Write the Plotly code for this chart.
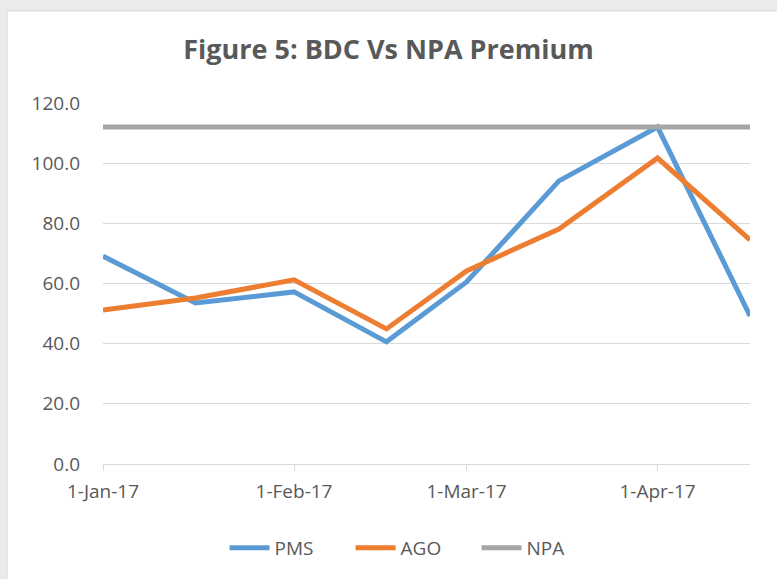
import plotly.graph_objects as go

dates = ["2017-01-01", "2017-01-16", "2017-02-01", "2017-02-16",
         "2017-03-01", "2017-03-16", "2017-04-01", "2017-04-16"]
pms = [69.1, 53.5, 57.2, 40.6, 60.5, 94.1, 112.0, 49.2]
ago = [51.2, 55.2, 61.2, 44.9, 64.2, 78.1, 101.7, 74.5]
npa = [112.0, 112.0, 112.0, 112.0, 112.0, 112.0, 112.0, 112.0]

tick_vals = ["2017-01-01", "2017-02-01", "2017-03-01", "2017-04-01"]
tick_text = ["1-Jan-17", "1-Feb-17", "1-Mar-17", "1-Apr-17"]
y_ticks = [0, 20, 40, 60, 80, 100, 120]

fig = go.Figure()
fig.add_trace(go.Scatter(x=dates, y=pms, name="PMS", mode="lines",
                         line=dict(color="#5b9bd5", width=5)))
fig.add_trace(go.Scatter(x=dates, y=ago, name="AGO", mode="lines",
                         line=dict(color="#ed7d31", width=5)))
fig.add_trace(go.Scatter(x=dates, y=npa, name="NPA", mode="lines",
                         line=dict(color="#a5a5a5", width=5)))

font_family = "Open Sans, Liberation Sans, sans-serif"

fig.update_layout(
    width=777, height=579,
    margin=dict(l=103, r=27, t=103, b=115),
    paper_bgcolor="#ebebeb",
    plot_bgcolor="white",
    font=dict(family=font_family, color="#595959", size=19),
    title=dict(text="<b>Figure 5: BDC Vs NPA Premium</b>", x=0.5, xanchor="center",
               y=1 - 50 / 579, yanchor="middle",
               font=dict(size=27, color="#595959", family=font_family)),
    showlegend=True,
    legend=dict(orientation="h", x=0.48, xanchor="center", y=-(548 - 464) / 361,
                yanchor="middle", entrywidth=71, entrywidthmode="pixels",
                font=dict(size=19, color="#595959"), bgcolor="rgba(0,0,0,0)",
                itemwidth=40, tracegroupgap=0),
    shapes=[dict(type="rect", xref="paper", yref="paper",
                 x0=(7 - 103) / 647, x1=1.2, y0=-0.4, y1=(464 - 11) / 361,
                 fillcolor="white", line=dict(color="#d6d6d6", width=1), layer="below")],
)

fig.update_xaxes(
    type="date", range=["2017-01-01", "2017-04-16"],
    tickvals=tick_vals, ticktext=tick_text,
    showgrid=False, showline=True, linecolor="#d9d9d9", linewidth=1,
    ticks="outside", ticklen=6, tickcolor="#d9d9d9",
    tickfont=dict(size=19, color="#595959"), zeroline=False,
    ticklabelstandoff=4,
)
fig.update_yaxes(
    range=[0, 120], tickvals=y_ticks, tickformat=".1f",
    showgrid=True, gridcolor="#d9d9d9", gridwidth=1,
    zeroline=False, showline=False, ticks="",
    tickfont=dict(size=19, color="#595959"), ticklabelstandoff=22,
)

fig.write_html("out.html", config={"displayModeBar": False},
               post_script="document.body.style.margin='0';")
